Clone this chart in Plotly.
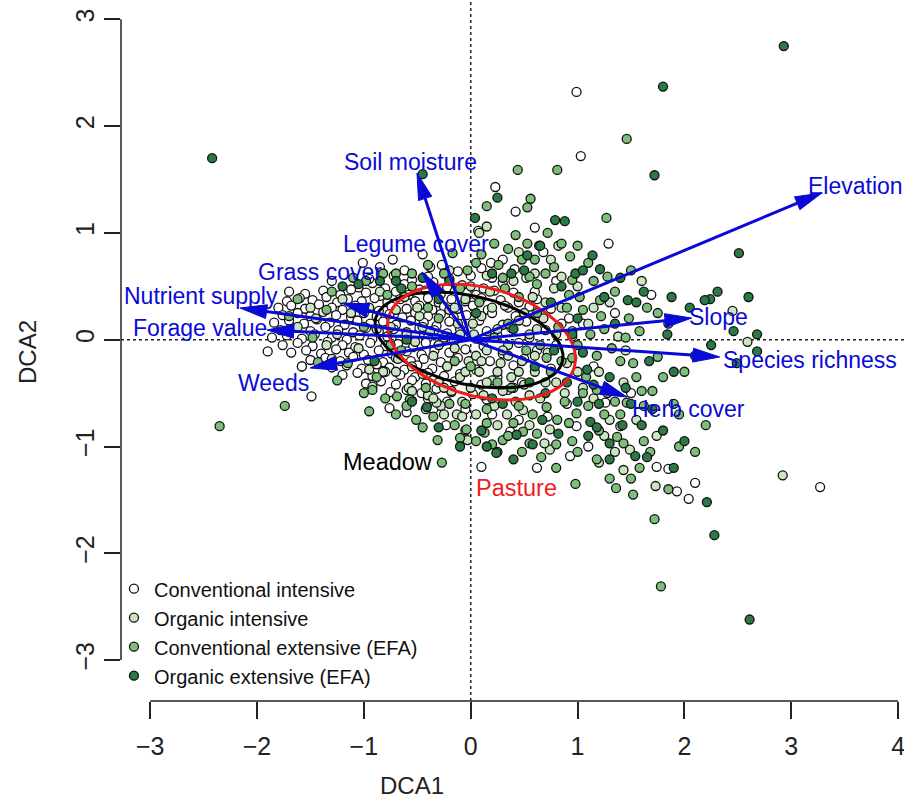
import numpy as np
import plotly.graph_objects as go

# ---------------- data ----------------
conv_int = [
    (-1.05,0.49),(-0.92,0.53),(-0.80,0.48),(-0.62,0.52),(-0.48,0.47),(-0.35,0.54),(-0.22,0.49),(-0.08,0.51),(0.12,0.48),(0.30,0.53),
    (-1.55,0.43),(-1.38,0.46),(-1.22,0.42),(-1.12,0.47),(-0.98,0.44),(-0.85,0.41),(-0.70,0.45),(-0.58,0.42),(-0.42,0.46),(-0.28,0.43),(-0.15,0.45),(0.05,0.42),(0.22,0.46),(0.40,0.44),
    (-1.72,0.36),(-1.60,0.39),(-1.48,0.37),(-1.35,0.40),(-1.25,0.35),(-1.15,0.38),(-1.02,0.36),(-0.90,0.39),(-0.78,0.35),(-0.66,0.38),(-0.52,0.36),(-0.40,0.39),(-0.30,0.35),(-0.18,0.38),(-0.05,0.36),(0.10,0.39),(0.28,0.37),(0.45,0.35),(0.62,0.38),
    (-1.80,0.30),(-1.68,0.32),(-1.55,0.29),(-1.42,0.33),(-1.30,0.30),(-1.20,0.28),(-1.08,0.32),(-0.96,0.30),(-0.86,0.27),(-0.74,0.31),(-0.60,0.29),(-0.48,0.32),(-0.36,0.28),(-0.25,0.31),(-0.12,0.29),(0.02,0.32),(0.16,0.28),(0.35,0.30),(0.55,0.31),(0.75,0.29),
    (-1.76,0.23),(-1.62,0.25),(-1.50,0.22),(-1.38,0.26),(-1.26,0.23),(-1.12,0.21),(-1.00,0.25),(-0.88,0.22),(-0.76,0.24),(-0.64,0.21),(-0.52,0.25),(-0.40,0.22),(-0.28,0.24),(-0.16,0.21),(-0.04,0.23),(0.20,0.25),(0.42,0.22),(0.66,0.24),
    (-1.84,0.16),(-1.70,0.18),(-1.56,0.15),(-1.44,0.19),(-1.32,0.16),(-1.18,0.14),(-1.06,0.18),(-0.94,0.15),(-0.82,0.17),(-0.70,0.14),(-0.56,0.18),(-0.44,0.16),(-0.32,0.13),(-0.20,0.17),(-0.08,0.15),(0.08,0.18),(0.30,0.14),(0.52,0.17),(0.85,0.15),
    (-1.78,0.09),(-1.64,0.11),(-1.50,0.08),(-1.36,0.12),(-1.24,0.09),(-1.10,0.07),(-0.98,0.11),(-0.86,0.08),(-0.72,0.10),(-0.60,0.07),(-0.48,0.11),(-0.34,0.09),(-0.22,0.06),(-0.10,0.10),(0.15,0.08),(0.38,0.11),(0.70,0.09),
    (-1.86,0.02),(-1.72,0.04),(-1.58,0.01),(-1.46,0.05),(-1.30,0.02),(-1.16,0.00),(-1.04,0.04),(-0.92,0.01),(-0.78,0.03),(-0.66,0.00),(-0.52,0.04),(-0.40,0.02),(-0.26,-0.01),(-0.12,0.03),(0.05,0.01),(0.25,0.04),(0.55,0.02),(0.95,0.03),
    (-1.76,-0.05),(-1.62,-0.03),(-1.48,-0.06),(-1.34,-0.02),(-1.20,-0.05),(-1.08,-0.07),(-0.94,-0.03),(-0.80,-0.06),(-0.68,-0.04),(-0.54,-0.07),(-0.42,-0.03),(-0.30,-0.05),(-0.16,-0.02),(0.12,-0.06),(0.45,-0.03),(0.80,-0.05),
    (-1.68,-0.12),(-1.54,-0.10),(-1.40,-0.13),(-1.26,-0.09),(-1.14,-0.12),(-1.00,-0.14),(-0.86,-0.10),(-0.74,-0.13),(-0.60,-0.11),(-0.46,-0.14),(-0.34,-0.10),(-0.20,-0.12),(-0.05,-0.09),(0.30,-0.13),(0.62,-0.10),
    (-1.50,-0.19),(-1.36,-0.17),(-1.22,-0.20),(-1.10,-0.16),(-0.96,-0.19),(-0.82,-0.21),(-0.70,-0.17),(-0.56,-0.20),(-0.44,-0.18),(-0.28,-0.21),(-0.12,-0.17),(0.18,-0.20),(0.50,-0.18),
    (-1.58,-0.25),(-1.30,-0.26),(-1.16,-0.24),(-1.02,-0.27),(-0.88,-0.23),(-0.76,-0.26),(-0.62,-0.28),(-0.50,-0.24),(-0.36,-0.27),(-0.22,-0.25),(0.05,-0.28),(0.40,-0.24),(0.75,-0.27),
    (-1.20,-0.33),(-1.06,-0.31),(-0.92,-0.34),(-0.80,-0.30),(-0.66,-0.33),(-0.52,-0.35),(-0.40,-0.31),(-0.25,-0.34),(-0.10,-0.32),(0.25,-0.35),
    (-0.98,-0.41),(-0.84,-0.39),(-0.70,-0.42),(-0.55,-0.38),(-0.42,-0.41),(-0.30,-0.43),(-0.15,-0.39),(0.10,-0.42),(0.48,-0.40),
    (-0.75,-0.49),(-0.60,-0.47),(-0.46,-0.50),(-0.32,-0.46),(-0.18,-0.49),(0.02,-0.51),(0.35,-0.47),
    (-0.55,-0.57),(-0.40,-0.55),(-0.22,-0.58),(0.15,-0.56),
    (-0.95,0.57),(-0.72,0.60),(-0.55,0.56),(-0.40,0.59),(-0.20,0.57),(0.00,0.60),(0.20,0.58),
    (-0.62,0.65),(-0.38,0.68),(-0.12,0.64),(0.10,0.67),
    (-1.90,-0.11),(-1.49,-0.53),(-1.58,-0.25),(-1.01,0.72),(0.99,2.32),(1.03,1.72),(0.23,1.43),(0.07,1.02),
    (0.19,0.72),(0.41,0.66),(0.68,0.82),(0.64,0.88),(1.29,0.90),(-0.27,0.70),(-0.73,0.75),(-0.76,-0.64),
    (1.26,-0.59),(0.37,-0.86),(0.99,-0.81),(0.93,-1.09),(0.10,-1.19),(-0.23,-0.80),(1.69,0.42),(1.74,-1.19),
    (1.85,-1.21),(1.93,-1.42),(2.10,-1.34),(2.04,-1.49),(3.27,-1.38),
    (0.30,0.75),(0.52,0.58),(0.80,0.55),(1.05,0.15),(1.15,-0.25),(0.90,-0.60),(0.72,-0.72),(0.45,-0.75),(0.20,-0.70),(-0.05,-0.65),
    (-0.35,-0.65),(-0.60,-0.68),(0.60,0.45),(0.92,0.20),(1.35,0.25),(1.50,-0.50),(1.10,-1.00),(0.62,-1.20),(-0.45,0.80),(-0.85,0.68),
    (-1.30,0.55),(-1.70,0.45),(0.42,1.20),(0.60,1.05),
]

org_int = [
    (-1.45,0.20),(-1.25,0.05),(-1.05,-0.08),(-0.95,0.30),(-0.82,-0.30),(-0.75,0.12),(-0.68,-0.18),(-0.62,0.40),(-0.58,-0.45),(-0.52,-0.02),
    (-0.48,0.22),(-0.45,-0.32),(-0.40,-0.52),(-0.38,0.08),(-0.35,-0.15),(-0.32,0.45),(-0.30,-0.40),(-0.28,-0.62),(-0.25,0.02),(-0.22,-0.25),
    (-0.20,0.28),(-0.18,-0.48),(-0.15,-0.08),(-0.12,0.15),(-0.10,-0.35),(-0.08,-0.58),(-0.05,0.38),(-0.02,-0.20),(0.00,-0.45),(0.03,0.05),
    (0.05,-0.70),(0.08,-0.30),(0.10,0.22),(0.12,-0.52),(0.15,-0.10),(0.18,0.45),(0.20,-0.38),(0.22,-0.62),(0.25,0.10),(0.28,-0.22),
    (0.30,-0.48),(0.32,0.32),(0.35,-0.05),(0.38,-0.35),(0.40,0.55),(0.42,-0.58),(0.45,0.18),(0.48,-0.20),(0.50,-0.42),(0.55,0.05),
    (0.58,0.40),(0.60,-0.30),(0.65,-0.55),(0.68,0.20),(0.72,-0.12),(0.78,0.48),(0.80,-0.40),(0.85,0.30),(0.90,-0.22),(0.95,0.08),
    (1.00,0.50),(1.05,-0.45),(1.10,0.15),(1.20,-0.30),(1.30,0.35),(1.38,0.03),(1.40,-0.81),(1.30,-0.75),(1.43,-0.40),(1.49,-1.03),
    (1.43,-1.22),(1.60,0.55),(1.74,-0.90),(1.73,-1.37),(2.45,0.27),(2.59,-0.02),(2.92,-1.27),(0.15,1.06),(0.08,1.00),(0.82,0.88),
    (0.85,0.59),(0.34,-0.70),(0.49,-0.66),(-0.13,-0.70),(-0.32,-0.59),(-0.92,-0.44),(-0.03,-0.94),(0.74,-0.84),(0.74,-1.03),(0.69,-0.97),
    (-0.60,0.05),(-0.55,-0.25),(-0.45,0.12),(-0.35,-0.55),(-0.25,-0.45),(-0.15,0.30),(-0.05,-0.30),(0.05,-0.15),(0.15,-0.40),(0.25,-0.30),
    (0.35,-0.15),(0.45,-0.30),(0.55,-0.52),(0.62,0.10),(0.70,-0.40),(-0.70,0.28),(-0.88,0.10),(-1.12,0.25),(-1.35,-0.05),(-1.62,0.12),
    (-0.42,-0.65),(0.02,0.15),(-0.08,-0.72),
    (-0.70,-0.30),(-0.50,0.30),(-0.30,-0.05),(-0.10,0.05),(0.10,-0.20),(0.20,0.30),(0.30,-0.10),(0.40,-0.45),(0.50,0.25),(0.60,-0.15),
    (0.70,0.35),(0.80,0.05),(0.88,-0.50),(1.00,-0.30),(1.15,-0.55),(1.25,-0.90),(1.35,-1.05),(0.55,-0.80),(0.25,-0.80),(-0.05,-0.85),
    (-0.25,-0.70),(-0.55,-0.48),(0.15,0.60),(0.45,0.82),(0.75,0.75),(1.15,0.30),(1.45,-0.10),(-0.85,0.45),(-1.20,0.38),(-1.50,0.30),
    (-1.30,-0.18),(-0.95,-0.28),(0.00,0.50),(-0.20,0.65),(0.60,0.62),(1.55,-0.75),(1.20,-1.15),
]

conv_ext = [
    (1.46,1.88),(0.44,1.59),(0.81,1.59),(0.56,1.32),(0.53,1.24),(0.15,1.25),(1.27,1.14),(-1.74,-0.62),(-2.35,-0.81),(-1.43,-0.21),
    (-0.95,-0.67),(0.53,0.90),(0.93,0.78),(0.26,0.70),(0.55,0.59),(0.95,0.56),(1.21,0.37),(1.28,0.59),(-0.17,0.81),(-0.03,0.65),
    (1.75,-0.16),(1.70,-0.48),(0.71,-0.17),(0.95,-0.17),(1.05,-0.50),(1.18,-0.47),(1.46,-0.59),(0.99,-0.69),(0.71,-0.63),(0.81,-0.75),
    (1.37,-0.91),(1.43,-0.97),(1.18,-1.12),(0.55,-0.97),(0.49,-0.86),(0.30,-0.94),(0.15,-0.78),(0.13,-0.87),(-0.31,-0.94),(-0.04,-0.84),
    (-0.51,-0.75),(-0.92,-0.47),(-0.57,-0.56),(-0.27,-1.15),(0.98,-1.35),(1.36,-1.39),(1.52,-1.45),(1.72,-1.68),(1.78,-2.31),(-0.69,-0.53),
    (-1.62,0.38),(-1.48,0.02),(-1.30,0.45),(-1.15,-0.22),(-0.98,0.55),(-0.88,-0.35),(-0.78,0.42),(-0.65,-0.10),(-0.55,0.50),(-0.42,-0.45),
    (-0.30,0.20),(-0.20,-0.60),(-0.10,0.48),(0.00,-0.25),(0.08,0.35),(0.15,-0.65),(0.22,0.02),(0.30,0.58),(0.38,-0.45),(0.45,0.40),
    (0.52,-0.10),(0.58,-0.70),(0.62,0.25),(0.70,0.62),(0.75,-0.30),(0.82,0.12),(0.88,-0.58),(0.92,0.42),(1.00,-0.05),(1.05,0.28),
    (1.08,-0.35),(1.15,0.55),(1.18,-0.15),(1.25,0.10),(1.28,-0.50),(1.35,0.45),(1.40,-0.20),(1.48,0.20),(1.55,-0.35),(1.58,0.08),
    (1.62,-0.62),(1.65,0.30),(1.40,-0.70),(1.20,-0.85),(0.95,-0.95),(0.62,-0.88),(0.40,-0.78),(0.25,-1.05),(-0.15,-0.80),(-0.45,-0.82),
    (-0.70,-0.70),(1.10,0.72),(0.85,0.90),(0.60,0.75),(0.35,0.85),(0.10,0.80),(-0.40,0.70),(-0.70,0.62),(1.90,-0.60),(2.00,-0.30),
    (1.85,0.15),(1.95,-1.00),(2.20,-0.80),(1.58,-1.20),(1.30,-1.30),(0.80,-1.20),(1.68,-1.05),
    (0.32,0.48),(0.48,0.75),(0.62,0.52),(0.78,0.68),(0.90,0.30),(1.02,0.40),(1.12,0.05),(1.22,0.22),(1.32,-0.08),(1.45,0.02),
    (1.52,-0.22),(1.60,-0.48),(1.35,-0.58),(1.25,-0.70),(1.10,-0.62),(0.92,-0.78),(0.80,-0.98),(0.66,-1.10),(0.48,-1.05),(0.35,-0.90),
    (0.20,-0.98),(0.05,-0.95),(-0.10,-0.92),(-0.35,-0.72),(-0.60,-0.62),(-0.80,-0.55),(-1.00,-0.50),(-1.25,-0.38),(-1.10,0.58),(-0.82,0.62),
    (-0.55,0.62),(-0.25,0.62),(0.05,0.72),(0.22,0.90),(0.42,0.98),(0.72,1.00),(1.00,0.88),(1.50,0.65),(1.75,0.25),(1.80,-0.35),
    (1.95,-0.70),(2.10,-1.05),(1.85,-1.40),(1.50,-1.30),(1.62,-0.95),(1.00,-1.05),(-0.05,-0.60),(0.25,-0.40),(0.45,-0.62),(0.65,-0.05),
    (0.85,-0.20),(0.35,0.15),(-0.15,-0.20),(-0.40,0.30),(-0.75,-0.05),(-1.00,0.12),(-1.35,0.28),(-1.70,0.22),
]

org_ext = [
    (-2.42,1.70),(2.93,2.75),(1.80,2.37),(1.72,1.54),(-0.45,1.55),(0.04,1.14),(0.79,1.12),(0.88,1.11),(0.25,1.33),(2.51,0.81),
    (2.31,0.45),(2.24,0.38),(2.19,0.37),(2.60,0.40),(2.46,0.08),(2.68,0.05),(2.68,-0.11),(2.25,-0.05),(1.84,0.05),(2.49,-0.22),
    (1.67,-0.20),(2.21,-1.52),(2.28,-1.83),(2.61,-2.62),(1.14,0.79),(1.21,0.66),(1.47,0.37),(1.05,-0.12),(1.09,-0.28),(1.12,-0.77),
    (1.18,-0.82),(1.30,-0.97),(1.54,-1.09),(1.30,-1.12),(0.67,-0.75),(0.43,-0.89),(0.24,-1.06),(-0.41,-0.63),(0.53,0.79),
    (-1.05,0.52),(-0.85,0.55),(-0.65,0.48),(-0.90,-0.20),(-0.60,0.00),(-0.30,0.38),(0.05,0.25),(0.20,-0.55),(0.40,0.10),(0.60,-0.25),
    (0.75,0.35),(0.90,-0.40),(1.00,0.20),(1.20,-0.60),(1.35,0.15),(0.70,-0.50),(0.10,-0.85),(-0.20,0.55),(0.50,0.65),(1.45,-0.45),
    (1.60,-0.80),(0.98,0.62),(1.10,-0.90),(1.62,0.45),(1.80,-0.85),(1.50,-0.60),(0.30,-0.60),(-0.55,-0.58),(1.90,-0.30),(2.05,0.30),
    (0.38,0.62),(0.65,0.88),(0.85,0.50),(1.05,0.65),(1.25,0.40),(1.40,0.58),(1.55,0.35),(1.30,-0.35),(1.15,-0.42),(1.00,-0.58),
    (0.82,-0.88),(0.58,-0.98),(0.40,-1.12),(0.15,-1.00),(-0.10,-1.00),(-0.30,-0.82),(1.42,-0.80),(1.65,-1.10),(1.90,-1.20),(2.00,-0.95),
    (1.70,-0.65),(0.95,0.05),(0.78,-0.10),(-1.20,0.50),(-0.70,0.55),(-0.45,0.58),(0.20,0.62),(1.88,0.40),(2.10,-0.15),(0.55,-0.40),
]

group_names = ["Conventional intensive", "Organic intensive",
               "Conventional extensive (EFA)", "Organic extensive (EFA)"]
group_colors = ["#ffffff", "#c9e6c1", "#7dbe7a", "#2b7a45"]

# environmental vectors (arrow tips) and label positions
vec_names = ["Soil moisture", "Legume cover", "Grass cover", "Nutrient supply", "Forage value",
             "Weeds", "Elevation", "Slope", "Species richness", "Herb cover"]
vec_x = [-0.503, -0.456, -1.204, -2.159, -1.906, -1.504, 3.286, 2.068, 2.330, 1.463]
vec_y = [1.561, 0.634, 0.343, 0.297, 0.091, -0.265, 1.374, 0.203, -0.162, -0.537]
lab_x = [-0.568, -0.512, -1.409, -2.522, -2.533, -1.850, 3.600, 2.316, 3.175, 2.034]
lab_y = [1.664, 0.896, 0.634, 0.409, 0.110, -0.405, 1.439, 0.213, -0.190, -0.649]

# group ellipses (centre, semi-axes, rotation in degrees)
ell_names = ["Meadow", "Pasture"]
ell_cx = [-0.016, 0.101]
ell_cy = [-0.003, -0.022]
ell_a = [0.897, 0.900]
ell_b = [0.414, 0.509]
ell_angle = [-12.7, -14.8]
ell_colors = ["#000000", "#ee1c1c"]
ell_lab_x = [-0.775, 0.424]
ell_lab_y = [-1.145, -1.389]

x_ticks = [-3, -2, -1, 0, 1, 2, 3, 4]
y_ticks = [-3, -2, -1, 0, 1, 2, 3]

FONT = "Liberation Sans, Arial, Helvetica, sans-serif"
NARROW = "Liberation Sans Narrow, Arial Narrow, Liberation Sans, Arial, sans-serif"
BLUE = "#0a0ad6"

W, H = 904, 801
ML, MB = 121, 100
PW, PH = W - ML, H - MB

fig = go.Figure()

# points
for pts, name, col in zip([conv_int, org_int, conv_ext, org_ext], group_names, group_colors):
    fig.add_trace(go.Scatter(
        x=[p[0] for p in pts], y=[p[1] for p in pts], mode="markers", name=name,
        marker=dict(size=9, color=col, line=dict(color="#111111", width=1.3)),
        showlegend=True, hoverinfo="skip"))

# ellipses
for cx, cy, a, b, ang, col in zip(ell_cx, ell_cy, ell_a, ell_b, ell_angle, ell_colors):
    t = np.linspace(0, 2 * np.pi, 240)
    th = np.deg2rad(ang)
    ex = cx + a * np.cos(t) * np.cos(th) - b * np.sin(t) * np.sin(th)
    ey = cy + a * np.cos(t) * np.sin(th) + b * np.sin(t) * np.cos(th)
    fig.add_trace(go.Scatter(x=ex, y=ey, mode="lines", line=dict(color=col, width=3),
                             showlegend=False, hoverinfo="skip"))

# arrows: shafts and filled heads
head_len, head_half = 0.25, 0.065
sx, sy, hx, hy = [], [], [], []
for vx, vy in zip(vec_x, vec_y):
    L = np.hypot(vx, vy)
    ux, uy = vx / L, vy / L
    bx, by = vx - head_len * ux, vy - head_len * uy
    px, py = -uy, ux
    sx += [0, bx + 0.02 * ux, None]
    sy += [0, by + 0.02 * uy, None]
    hx += [vx, bx + head_half * px, bx - head_half * px, vx, None]
    hy += [vy, by + head_half * py, by - head_half * py, vy, None]
fig.add_trace(go.Scatter(x=sx, y=sy, mode="lines", line=dict(color=BLUE, width=3),
                         showlegend=False, hoverinfo="skip"))
fig.add_trace(go.Scatter(x=hx, y=hy, mode="lines", fill="toself", fillcolor=BLUE,
                         line=dict(color=BLUE, width=1), showlegend=False, hoverinfo="skip"))

# labels
for name, x, y in zip(vec_names, lab_x, lab_y):
    fig.add_annotation(x=x, y=y, text=name, showarrow=False,
                       font=dict(family=FONT, size=23, color=BLUE))
for name, x, y, col in zip(ell_names, ell_lab_x, ell_lab_y, ell_colors):
    fig.add_annotation(x=x, y=y, text=name, showarrow=False,
                       font=dict(family=FONT, size=23.5, color=col))

# dotted reference lines
fig.add_hline(y=0, line=dict(color="#222222", width=1.5, dash="dot"), layer="below")
fig.add_vline(x=0, line=dict(color="#222222", width=1.5, dash="dot"), layer="below")

# detached axis lines (R style)
fig.add_shape(type="line", xref="x", yref="paper", x0=x_ticks[0], x1=x_ticks[-1], y0=0, y1=0,
              line=dict(color="#222222", width=1.5))
fig.add_shape(type="line", xref="paper", yref="y", x0=0, x1=0, y0=y_ticks[0], y1=y_ticks[-1],
              line=dict(color="#222222", width=1.5))

# axis titles
fig.add_annotation(xref="paper", yref="paper", x=(412 - ML) / PW, y=-(785 - PH) / PH,
                   xanchor="center", yanchor="middle",
                   text="DCA1", showarrow=False, font=dict(family=NARROW, size=24, color="#222222"))
fig.add_annotation(xref="paper", yref="paper", x=(27 - ML) / PW, y=(PH - 352) / PH,
                   xanchor="center", yanchor="middle",
                   text="DCA2", textangle=-90, showarrow=False,
                   font=dict(family=NARROW, size=24, color="#222222"))

fig.update_layout(
    width=W, height=H,
    margin=dict(l=ML, r=0, t=0, b=MB),
    paper_bgcolor="white", plot_bgcolor="white",
    font=dict(family=FONT, color="#222222"),
    xaxis=dict(range=[-3.273, 4.055], tickvals=x_ticks, ticks="outside", ticklen=17,
               tickwidth=1.5, tickcolor="#222222", showgrid=False, zeroline=False,
               showline=False, ticklabelstandoff=6, ticklabeloverflow="allow",
               tickfont=dict(size=25, family=NARROW, color="#222222")),
    yaxis=dict(range=[-3.383, 3.181], tickvals=y_ticks, ticks="outside", ticklen=16,
               tickwidth=1.5, tickcolor="#222222", showgrid=False, zeroline=False,
               showline=False, tickangle=-90, ticklabeloverflow="allow",
               tickfont=dict(size=25, family=NARROW, color="#222222")),
    legend=dict(x=-0.009, y=0.188, xanchor="left", yanchor="top", bgcolor="rgba(0,0,0,0)",
                font=dict(family=FONT, size=20, color="#111111"), tracegroupgap=0,
                itemsizing="trace"),
    showlegend=True,
)

fig.write_html("out.html", config={"displayModeBar": False},
               post_script="document.body.style.margin='0px';document.body.style.overflow='hidden';")
